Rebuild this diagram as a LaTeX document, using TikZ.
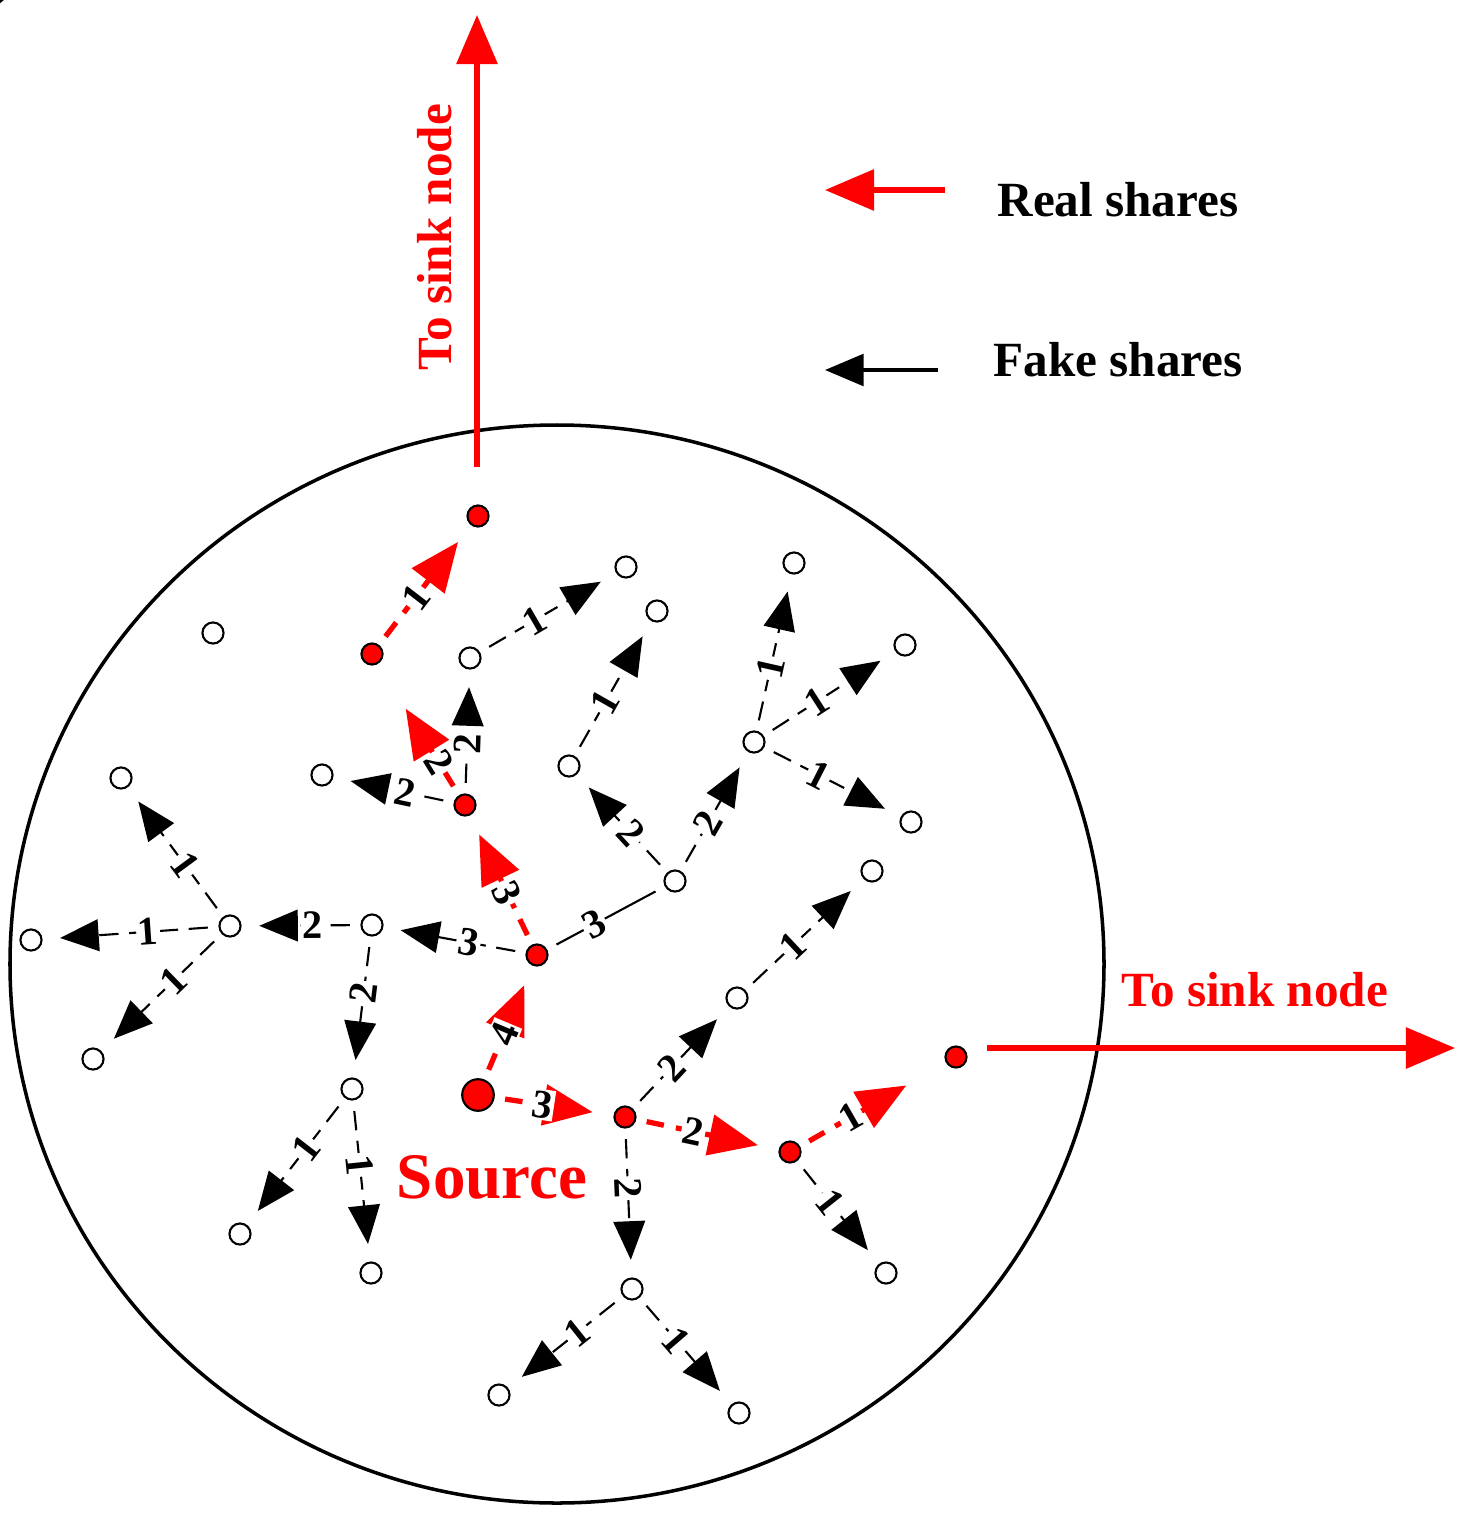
\documentclass[tikz,border=0pt]{standalone}
\usepackage{fontspec}
\setmainfont{Liberation Serif}
\usetikzlibrary{arrows.meta}
\tikzset{
  pt/.style = 	{circle, draw, line width=1.2pt, fill=white,
				minimum size=12pt, inner sep=0pt},
  rpt/.style = 	{pt, fill=red},
  src/.style = 	{rpt, minimum size=18pt},
  fake/.style = 	{draw, line width=1.2pt, dash pattern=on 11pt off 6pt,
				-{Triangle[length=22pt,width=18pt]},
				shorten >=10pt, shorten <=6pt},
  real/.style = 	{draw=red, line width=3pt, dash pattern=on 10pt off 7pt,
				-{Triangle[length=28pt,width=23pt]},
				shorten >=12pt, shorten <=6pt},
  lbl/.style = 	{font=\fontsize{23}{23}\selectfont\bfseries, fill=white,
				inner sep=1pt, sloped, pos=0.4},
  big/.style = 	{font=\fontsize{28}{28}\selectfont\bfseries},
}

\begin{document}
\begin{tikzpicture}
	[
		x = 0.02cm,
		y = -0.02cm
	]
	\useasboundingbox (0,0) rectangle (1469,1525);
	\draw [line width=2pt] (557,964) ellipse [x radius=547, y radius=539];
	% nodes
	\node [src] (s) at (478,1095) {};
	\foreach \n/\x/\y in {r1/537/955, r2/465/805, r3/372/654, r4/478/516,
		r5/625/1117, r6/790/1152, r7/956/1057}
		\node [rpt] (\n) at (\x,\y) {};
	\foreach \n/\x/\y in {a/470/658, b/626/567, c/657/611, d/569/766,
		e/675/881, f/754/742, g/794/563, h/905/645, i/911/822, j/322/775,
		k/213/633, l/121/778, m/230/926, n/372/925, o/31/940, p/93/1059,
		q/352/1089, t1/240/1234, t2/371/1273, u/737/998, v/872/871,
		w/632/1289, x1/499/1395, y1/739/1413, z/886/1273}
		\node [pt] (\n) at (\x,\y) {};
	% real shares
	\draw [real] (s) -- node [lbl] {4} (r1);
	\draw [real] (s) -- node [lbl] {3} (r5);
	\draw [real] (r1) -- node [lbl] {3} (r2);
	\draw [real, shorten >=30pt] (r2) -- node [lbl, pos=0.25] {2} (r3);
	\draw [real] (r3) -- node [lbl] {1} (r4);
	\draw [real] (r5) -- node [lbl] {2} (r6);
	\draw [real, shorten >=26pt] (r6) -- node [lbl, pos=0.35] {1} (r7);
	% fake shares
	\draw [fake] (r2) -- node [lbl] {2} (a);
	\draw [fake] (r2) -- node [lbl] {2} (j);
	\draw [fake] (r1) -- node [lbl] {3} (n);
	\draw [line width=1.2pt, shorten <=6pt, shorten >=6pt] (r1) -- node [lbl] {3} (e);
	\draw [fake] (e) -- node [lbl] {2} (d);
	\draw [fake] (d) -- node [lbl] {1} (c);
	\draw [fake] (a) -- node [lbl] {1} (b);
	\draw [fake] (e) -- node [lbl] {2} (f);
	\draw [fake] (f) -- node [lbl] {1} (g);
	\draw [fake] (f) -- node [lbl] {1} (h);
	\draw [fake] (f) -- node [lbl] {1} (i);
	\draw [fake] (n) -- node [lbl] {2} (m);
	\draw [fake] (m) -- node [lbl] {1} (l);
	\draw [fake] (m) -- node [lbl] {1} (o);
	\draw [fake] (m) -- node [lbl] {1} (p);
	\draw [fake] (n) -- node [lbl] {2} (q);
	\draw [fake] (q) -- node [lbl] {1} (t1);
	\draw [fake] (q) -- node [lbl] {1} (t2);
	\draw [fake] (r5) -- node [lbl] {2} (u);
	\draw [fake] (u) -- node [lbl] {1} (v);
	\draw [fake] (r5) -- node [lbl] {2} (w);
	\draw [fake] (w) -- node [lbl] {1} (x1);
	\draw [fake] (w) -- node [lbl] {1} (y1);
	\draw [fake] (r6) -- node [lbl] {1} (z);
	\node [lbl, rotate=-50] (one) at (285,725) {1};
	% sinks
	\coordinate (up0) at (477,467);
	\coordinate (up1) at (477,15);
	\draw [real, solid, shorten <=0pt, shorten >=0pt] (up0) -- (up1);
	\node [big, red, rotate=90] (sinkA) at (435,237) {To sink node};
	\coordinate (rt0) at (987,1048);
	\coordinate (rt1) at (1455,1048);
	\draw [real, solid, shorten <=0pt, shorten >=0pt] (rt0) -- (rt1);
	\node [big, red] (sinkB) at (1255,990) {To sink node};
	\node [red, font=\fontsize{37}{37}\selectfont\bfseries] (srcl) at (492,1177) {Source};
	% legend
	\coordinate (la0) at (945,190);
	\coordinate (la1) at (825,190);
	\draw [real, solid, shorten <=0pt, shorten >=0pt] (la0) -- (la1);
	\node [big] (real) at (1118,200) {Real shares};
	\coordinate (lb0) at (938,370);
	\coordinate (lb1) at (825,370);
	\draw [fake, solid, line width=2.2pt, shorten <=0pt, shorten >=0pt] (lb0) -- (lb1);
	\node [big] (fake) at (1118,360) {Fake shares};
\end{tikzpicture}
\end{document}
